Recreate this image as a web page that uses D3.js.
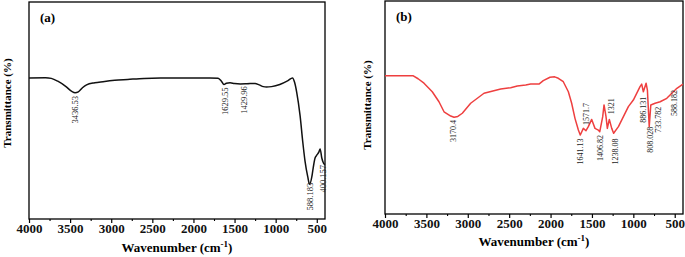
<!DOCTYPE html>
<html>
<head>
<meta charset="utf-8">
<script src="https://cdn.jsdelivr.net/npm/d3@7"></script>
<style>
  body { margin: 0; background: #fff; }
  svg { display: block; }
  text { font-family: "Liberation Serif", "Times New Roman", serif; }
  .tick text { font-weight: bold; font-size: 13px; }
  .domain { display: none; }
</style>
</head>
<body>
<svg id="chart" width="685" height="257"></svg>
<script>
// wavenumber ticks shared by both panels
const majorTicks = [4000, 3500, 3000, 2500, 2000, 1500, 1000, 500];
const minorTicks = [3750, 3250, 2750, 2250, 1750, 1250, 750];

// panel (a): wavenumber (cm-1) and transmittance (arbitrary %)
const waveA = [4000, 3800, 3729, 3650, 3550, 3480, 3440, 3400, 3350, 3300, 3200, 3100, 2957, 2800, 2600,
  2400, 2187, 1800, 1700, 1660, 1629, 1600, 1555, 1500, 1429, 1350, 1250, 1200, 1150, 1112, 1050, 950,
  850, 795, 770, 744, 703, 671, 643, 610, 588, 560, 549, 521, 500, 475, 459, 439, 419, 400];
const transA = [65.0, 65.1, 64.8, 63.5, 61.0, 58.8, 58.2, 58.6, 60.5, 61.8, 62.8, 63.3, 63.9, 64.3, 64.8,
  65.0, 65.0, 65.0, 64.9, 63.5, 62.0, 62.6, 62.8, 62.4, 62.2, 62.3, 62.5, 61.8, 61.0, 60.8, 61.0, 62.0,
  63.8, 65.0, 63.0, 58.4, 47.6, 35.7, 26.7, 19.5, 16.0, 19.5, 22.2, 28.1, 29.4, 30.8, 32.3, 28.1, 25.8, 25.0];
const peakTextA = ["3436.53", "1629.55", "1429.96", "588.183", "400.157"];
const peakWaveA = [3436, 1620, 1390, 585, 427];
const peakTopA = [56.7, 60.6, 61.2, 16.7, 24.9];

// panel (b)
const waveB = [4000, 3658, 3600, 3529, 3429, 3348, 3287, 3206, 3166, 3120, 3066, 2965, 2804, 2602, 2482,
  2402, 2300, 2240, 2140, 2088, 2007, 1950, 1906, 1846, 1785, 1745, 1705, 1664, 1641, 1604, 1572, 1544,
  1503, 1463, 1423, 1406, 1370, 1354, 1330, 1314, 1290, 1261, 1238, 1180, 1120, 1060, 1000, 919, 899,
  879, 846, 830, 808, 789, 737, 676, 596, 535, 474, 400];
const transB = [64.9, 64.9, 63.5, 61.4, 57.4, 52.7, 48.0, 46.0, 45.4, 45.8, 47.3, 52.0, 56.7, 58.7, 59.3,
  60.1, 60.6, 61.0, 61.0, 62.6, 64.2, 64.4, 63.7, 62.1, 57.4, 52.0, 44.9, 39.4, 37.1, 40.2, 39.1, 41.0,
  44.4, 40.2, 39.4, 38.6, 45.7, 51.2, 45.7, 40.2, 44.4, 40.2, 37.9, 41.0, 45.7, 50.4, 53.5, 59.8, 61.0,
  57.4, 61.4, 58.2, 41.0, 51.2, 52.0, 52.7, 54.3, 56.7, 59.0, 61.0];
const peakTextB = ["3170.4", "1641.13", "1571.7", "1406.82", "1321", "1238.08", "886.131", "808.028", "733.782", "588.182"];
const peakWaveB = [3175, 1644, 1572, 1403, 1273, 1222, 880, 799, 698, 509];
const peakTopB = [44.1, 35.5, 52.1, 37.1, 54.3, 35.5, 55.1, 41.0, 50.4, 58.2];

const svg = d3.select("#chart");

function drawPanel(p) {
  let x = d3.scaleLinear().domain([4000, 400]).range([p.left, p.right]);
  let y = d3.scaleLinear().domain([0, 100]).range([p.bottom, p.top]);
  let g = svg.append("g");

  // minor ticks first, then labelled major ticks
  g.append("g")
    .attr("transform", "translate(0," + p.bottom + ")")
    .call(d3.axisBottom(x).tickValues(minorTicks).tickSize(2).tickFormat(""))
    .selectAll("line").attr("stroke", "#000").attr("stroke-width", 1.1);
  let ax = g.append("g")
    .attr("transform", "translate(0," + p.bottom + ")")
    .call(d3.axisBottom(x).tickValues(majorTicks).tickSize(4).tickPadding(1).tickFormat(d3.format("d")));
  ax.selectAll("line").attr("stroke", "#000").attr("stroke-width", 1.2);
  ax.selectAll("text").attr("fill", "#111");

  g.append("rect")
    .attr("x", p.left).attr("y", p.top)
    .attr("width", p.right - p.left).attr("height", p.bottom - p.top)
    .attr("fill", "none").attr("stroke", "#000").attr("stroke-width", 1.3);

  let pts = p.wave.map(function(w, i) { return [w, p.trans[i]]; });
  let line = d3.line()
    .x(function(d) { return x(d[0]); })
    .y(function(d) { return y(d[1]); })
    .curve(p.smooth ? d3.curveMonotoneX : d3.curveLinear);
  g.append("path")
    .datum(pts)
    .attr("d", line)
    .attr("fill", "none")
    .attr("stroke", p.color)
    .attr("stroke-width", 1.5)
    .attr("stroke-linejoin", "round");

  // peak annotations, rotated, top end of the text at peakTop
  g.selectAll(".peak")
    .data(p.peakText)
    .enter()
    .append("text")
    .attr("class", "peak")
    .attr("transform", function(d, i) {
      return "translate(" + x(p.peakWave[i]) + "," + y(p.peakTop[i]) + ") rotate(-90)";
    })
    .attr("dy", "0.35em")
    .attr("text-anchor", "end")
    .attr("font-size", p.peakSize)
    .attr("fill", "#222")
    .text(function(d) { return d; });

  g.append("text")
    .attr("x", p.left + 11).attr("y", p.top + 20)
    .attr("font-size", 13).attr("font-weight", "bold")
    .text(p.tag);

  let xt = g.append("text")
    .attr("x", (p.left + p.right) / 2).attr("y", p.titleY)
    .attr("text-anchor", "middle")
    .attr("font-size", 13).attr("font-weight", "bold");
  xt.append("tspan").text("Wavenumber (cm");
  xt.append("tspan").attr("font-size", 9).attr("dy", -5).text("-1");
  xt.append("tspan").attr("dy", 5).text(")");

  g.append("text")
    .attr("transform", "translate(" + p.yTitleX + "," + p.yTitleY + ") rotate(-90)")
    .attr("dy", "0.35em")
    .attr("text-anchor", "middle")
    .attr("font-size", 11).attr("font-weight", "bold")
    .text("Transmittance (%)");
}

drawPanel({
  left: 29, right: 325, top: 2, bottom: 219,
  wave: waveA, trans: transA, color: "#111", smooth: true,
  peakText: peakTextA, peakWave: peakWaveA, peakTop: peakTopA, peakSize: 8.5,
  tag: "(a)", titleY: 252, yTitleX: 7, yTitleY: 103
});

drawPanel({
  left: 385, right: 683, top: 1, bottom: 214,
  wave: waveB, trans: transB, color: "#ee3f3f", smooth: false,
  peakText: peakTextB, peakWave: peakWaveB, peakTop: peakTopB, peakSize: 8,
  tag: "(b)", titleY: 246, yTitleX: 367, yTitleY: 105
});
</script>
</body>
</html>
